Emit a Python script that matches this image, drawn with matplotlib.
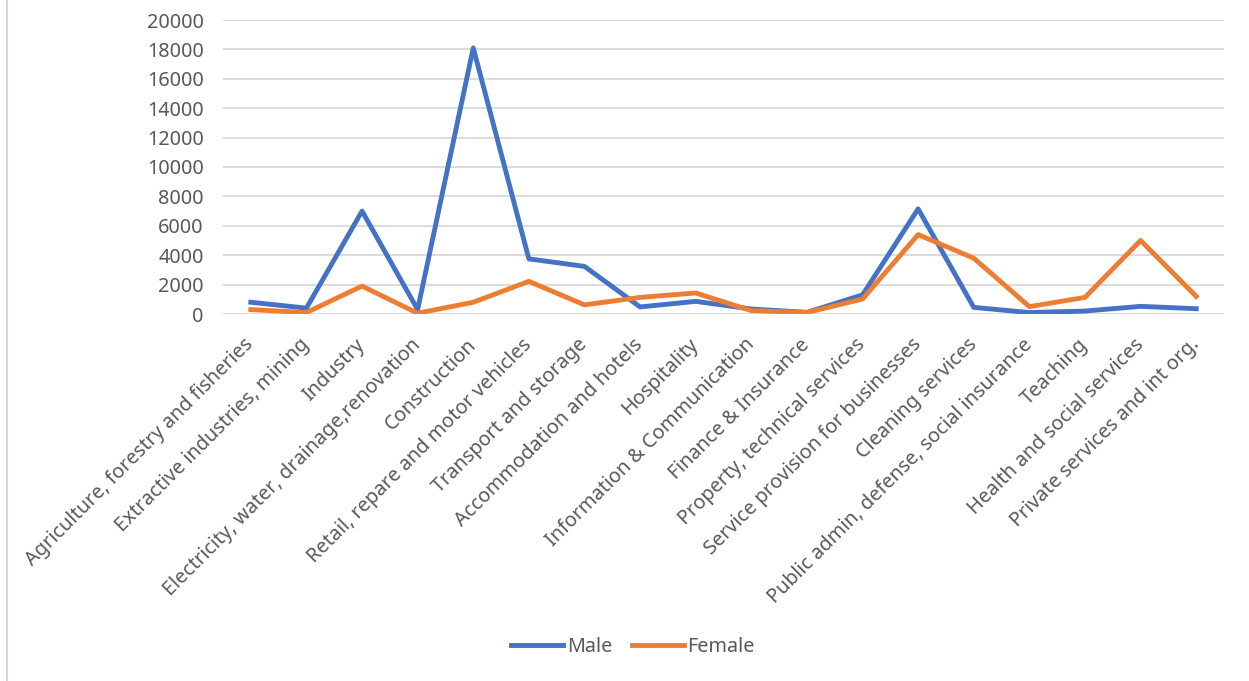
import matplotlib
matplotlib.use("Agg")
import matplotlib.pyplot as plt
from matplotlib.lines import Line2D

categories = [
    "Agriculture, forestry and fisheries",
    "Extractive industries, mining",
    "Industry",
    "Electricity, water, drainage,renovation",
    "Construction",
    "Retail, repare and motor vehicles",
    "Transport and storage",
    "Accommodation and hotels",
    "Hospitality",
    "Information & Communication",
    "Finance & Insurance",
    "Property, technical services",
    "Service provision for businesses",
    "Cleaning services",
    "Public admin, defense, social insurance",
    "Teaching",
    "Health and social services",
    "Private services and int org.",
]
male = [800, 400, 7000, 300, 18100, 3750, 3240, 480, 860, 340, 110, 1300,
        7150, 450, 100, 200, 520, 360]
female = [300, 100, 1900, 50, 800, 2220, 620, 1130, 1430, 230, 100, 1020,
          5400, 3800, 500, 1130, 5000, 1200]
y_ticks = list(range(0, 20001, 2000))

plt.rcParams["font.family"] = ["Noto Sans", "DejaVu Sans"]

fig = plt.figure(figsize=(12.49, 6.81), dpi=100)
ax = fig.add_axes([223 / 1249, 1 - 314 / 681, 1001 / 1249, 294 / 681])

x = list(range(len(categories)))
ax.plot(x, male, color="#4472C4", linewidth=3.5, label="Male", solid_joinstyle="round")
ax.plot(x, female, color="#ED7D31", linewidth=3.5, label="Female", solid_joinstyle="round")

ax.set_xlim(-0.5, len(categories) - 0.5)
ax.set_ylim(0, 20000)
ax.set_yticks(y_ticks)
ax.set_yticklabels([str(v) for v in y_ticks])
ax.set_xticks(x)
ax.set_xticklabels(categories, rotation=45, ha="right", va="center",
                   rotation_mode="anchor")

ax.grid(axis="y", color="#D9D9D9", linewidth=1.3)
ax.set_axisbelow(True)
for s in ax.spines.values():
    s.set_visible(False)
ax.tick_params(axis="y", length=0, pad=14, labelsize=14.3, labelcolor="#595959")
ax.tick_params(axis="x", length=0, pad=20, labelsize=14.3, labelcolor="#595959")

# chart border on the left
fig.add_artist(Line2D([7 / 1249, 7 / 1249], [0, 1], color="#D9D9D9", linewidth=1.5))

fig.legend(loc="center", bbox_to_anchor=(633 / 1249, 1 - 647 / 681), ncol=2,
           frameon=False, fontsize=14.3, handlelength=2.6, handletextpad=0.2,
           columnspacing=1.0, labelcolor="#595959")

fig.savefig("out.png", dpi=100, facecolor="white")
